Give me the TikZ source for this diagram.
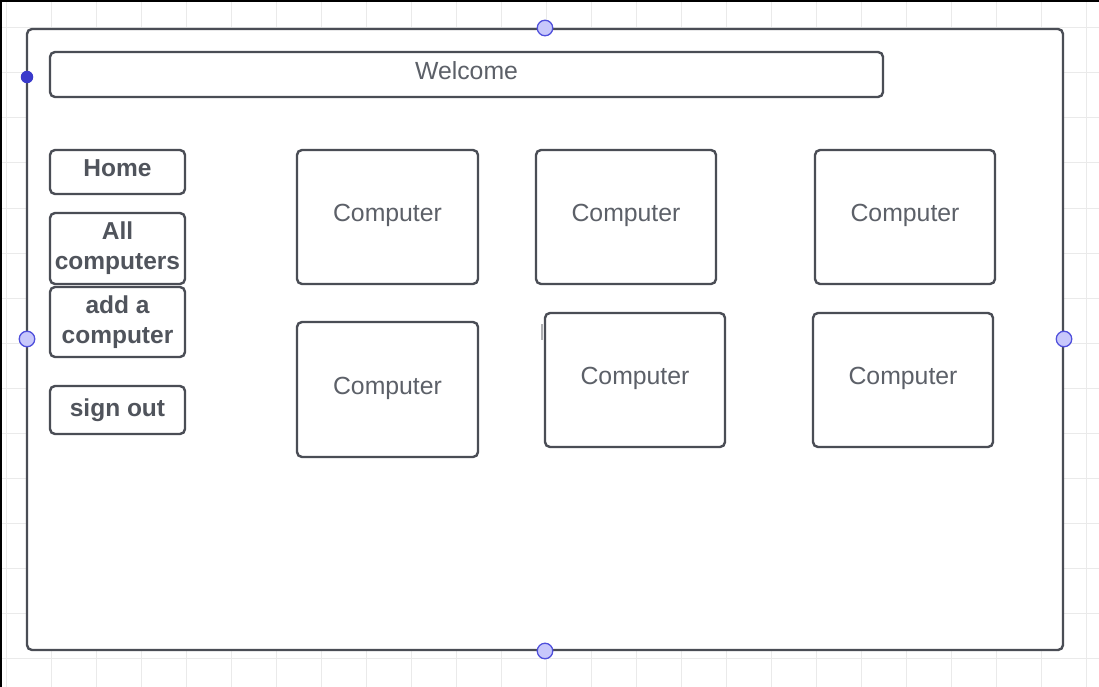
\documentclass[tikz,border=0pt]{standalone}
\usepackage{fontspec}
\setmainfont{Liberation Sans}
\definecolor{strokec}{HTML}{4A4D55}
\definecolor{textc}{HTML}{5C6068}
\definecolor{boldc}{HTML}{50545C}
\definecolor{gridc}{HTML}{EAEAEA}
\definecolor{handlefill}{HTML}{C8C8FB}
\definecolor{handledraw}{HTML}{5050DC}
\definecolor{dotc}{HTML}{3A3ACB}
\begin{document}
\begin{tikzpicture}[x=1pt,y=-1pt,
  box/.style={draw=strokec, line width=2.4pt, rounded corners=5pt, fill=white, inner sep=0pt, anchor=center},
  navbox/.style={box, minimum width=135pt, text=boldc, align=center, font=\fontsize{24.5}{30}\selectfont\bfseries},
  compbox/.style={box},
  plaintxt/.style={text=textc, font=\fontsize{24.8}{29}\selectfont, inner sep=0pt},
  boldtxt/.style={text=boldc, font=\fontsize{24.5}{30}\selectfont\bfseries, inner sep=0pt},
  handle/.style={circle, fill=handlefill, draw=handledraw, line width=1.3pt, minimum size=15.5pt, inner sep=0pt},
]
\useasboundingbox (0,0) rectangle (1099,687);
\fill[white] (0,0) rectangle (1099,687);
% grid
\foreach \gx in {6,51,...,1096} \draw[gridc, line width=1pt] (\gx,0) -- (\gx,687);
\foreach \gy in {28,73,...,687} \draw[gridc, line width=1pt] (0,\gy) -- (1099,\gy);
% screen border
\fill[black] (0,0) rectangle (2.2,687);
\fill[black] (0,0) rectangle (1099,1.6);
% main frame
\node[box, minimum width=1036pt, minimum height=621pt] (frame) at (545,339.5) {};
% welcome
\node[box, minimum width=833pt, minimum height=45pt, label={[plaintxt, yshift=3.5pt]center:Welcome}] (welcome) at (466.5,74.5) {};
% nav
\node[navbox, minimum height=44pt, label={[boldtxt, yshift=3.7pt]center:Home}] (home) at (117.5,172) {};
\node[navbox, minimum height=71pt] (all) at (117.5,248.5) {All\\computers};
\node[navbox, minimum height=70pt] (add) at (117.5,322) {add a\\computer};
\node[navbox, minimum height=48pt] (signout) at (117.5,410) {sign out};
% computers
\node[compbox, minimum width=181pt, minimum height=134pt, label={[plaintxt, yshift=1.5pt]center:Computer}] (c1) at (387.5,217) {};
\node[compbox, minimum width=180pt, minimum height=134pt, label={[plaintxt, yshift=1.5pt]center:Computer}] (c2) at (626,217) {};
\node[compbox, minimum width=180pt, minimum height=134pt, label={[plaintxt, yshift=1.5pt]center:Computer}] (c3) at (905,217) {};
\node[compbox, minimum width=181pt, minimum height=135pt, label={[plaintxt, yshift=1.5pt]center:Computer}] (c4) at (387.5,389.5) {};
\node[compbox, minimum width=180pt, minimum height=134pt, label={[plaintxt, yshift=1.5pt]center:Computer}] (c5) at (635,380) {};
\node[compbox, minimum width=180pt, minimum height=134pt, label={[plaintxt, yshift=1.5pt]center:Computer}] (c6) at (903,380) {};
% small artifact
\draw[strokec!45, line width=1.2pt] (542,324) -- (542,340);
% handles
\node[handle] (ht) at (545,28) {};
\node[handle] (hb) at (545,651) {};
\node[handle] (hl) at (27,339) {};
\node[handle] (hr) at (1064,339) {};
\node[circle, fill=dotc, minimum size=12.5pt, inner sep=0pt] (dot) at (27,77) {};
\end{tikzpicture}
\end{document}
